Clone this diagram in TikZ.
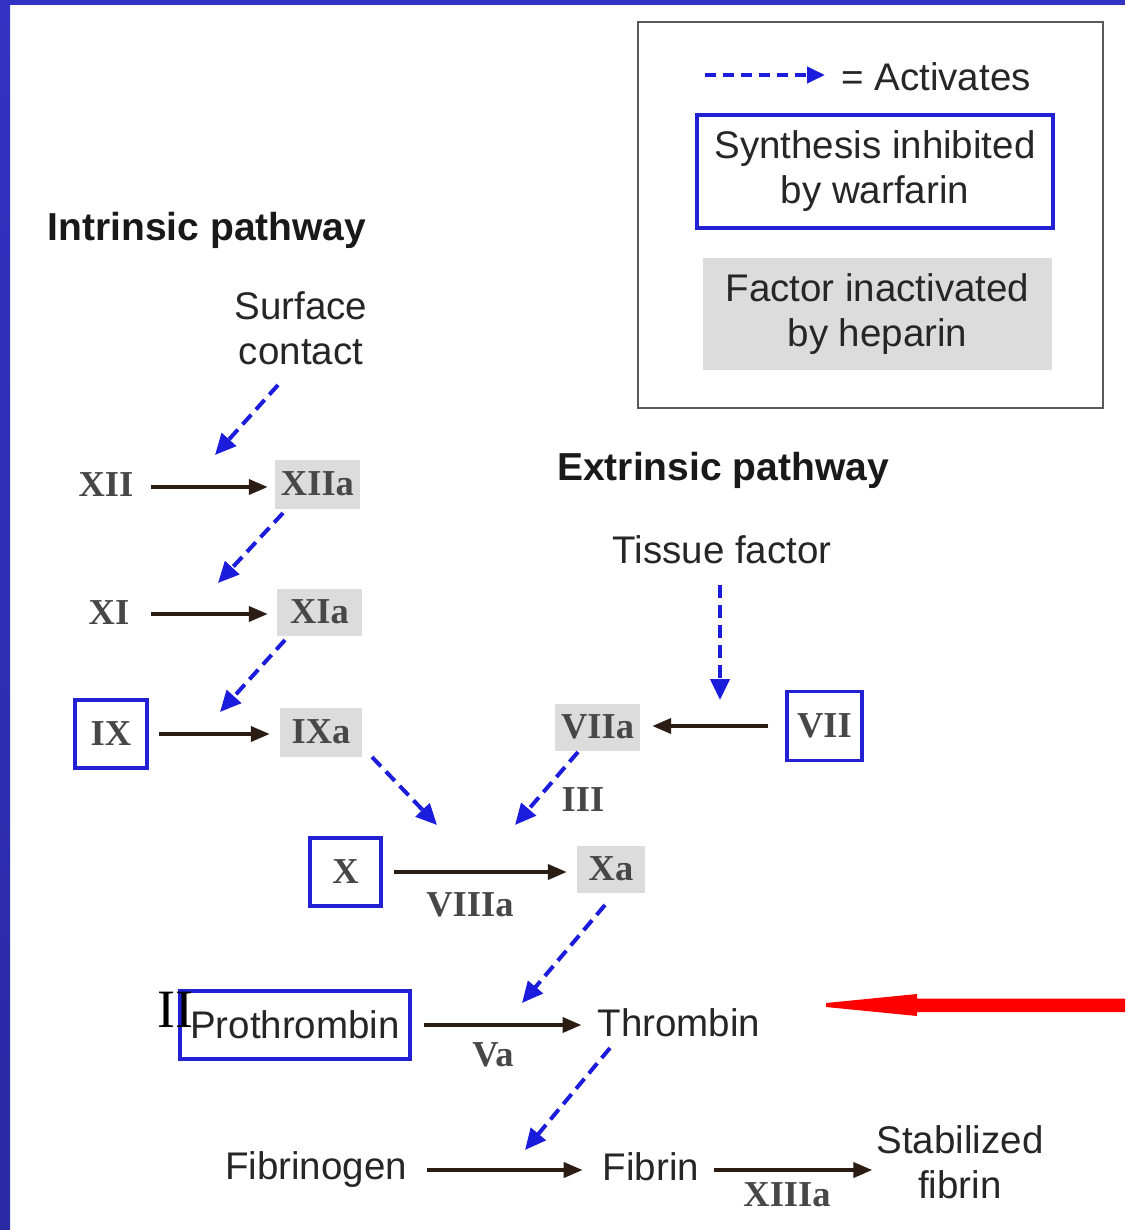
\documentclass[tikz,border=0pt]{standalone}
\usepackage{fontspec}
\setmainfont{Liberation Serif}
\newfontfamily\sanf{Liberation Sans}
\newfontfamily\serf{Liberation Serif}
\usetikzlibrary{arrows.meta}
\definecolor{band}{HTML}{3232C4}
\definecolor{bandlow}{HTML}{2A2AA4}
\definecolor{wblue}{HTML}{2222D4}
\definecolor{actblue}{HTML}{1C1CDC}
\definecolor{hgray}{HTML}{DCDCDC}
\definecolor{convcol}{HTML}{2B1D14}
\definecolor{framegray}{HTML}{5A5A5A}
\newcommand\sanstxt{\sanf\fontsize{38.5}{45}\selectfont}
\newcommand\sansbold{\sanf\bfseries\fontsize{39}{45}\selectfont}
\newcommand\romtxt{\serf\bfseries\fontsize{36.5}{42}\selectfont}
\newcommand\bigrom{\serf\fontsize{54}{60}\selectfont}
\begin{document}
\begin{tikzpicture}[x=1pt,y=-1pt,
  lbl/.style={inner sep=0pt, font=\sanstxt, text=black!85},
  hdr/.style={inner sep=0pt, font=\sansbold, text=black!90},
  rom/.style={inner sep=0pt, font=\romtxt, text=black!72},
  warf/.style={draw=wblue, line width=3.5pt, inner sep=0pt, font=\romtxt, text=black!72},
  hep/.style={fill=hgray, inner sep=0pt, font=\romtxt, text=black!72},
  act/.style={draw=actblue, line width=4pt, dash pattern=on 13pt off 7pt,
     -{Triangle[length=21pt,width=19pt]}},
  conv/.style={draw=convcol, line width=3.8pt, -{Triangle[length=19pt,width=15pt]}}
]
\useasboundingbox (0,0) rectangle (1125,1230);
\fill[white] (0,0) rectangle (1125,1230);
% slide frame bands
\fill[band] (0,0) rectangle (1125,5);
\shade[top color=band, bottom color=bandlow] (0,0) rectangle (10,1230);

% legend
\draw[framegray, line width=2.5pt] (638,22) rectangle (1103,408);
\coordinate (la) at (705,75);
\coordinate (lb) at (825,75);
\draw[act, dash pattern=on 11pt off 7pt, -{Triangle[length=18pt,width=16pt]}] (la) -- (lb);
\node[lbl] (activ) at (936,77) {= Activates};
\node[draw=wblue, line width=3.5pt, inner sep=0pt, minimum width=356pt, minimum height=113pt,
      font=\sanstxt, align=center, text=black!85] (lwarf) at (875,171.5) {Synthesis inhibited\\by warfarin};
\node[fill=hgray, inner sep=0pt, minimum width=349pt, minimum height=112pt,
      font=\sanstxt, align=center, text=black!85] (lhep) at (877.5,314) {Factor inactivated\\by heparin};

% intrinsic pathway
\node[hdr] (intr) at (207,230) {Intrinsic pathway};
\node[lbl, align=center] (surf) at (301,328) {Surface\\contact};

\node[rom] (xii) at (106,485) {XII};
\node[hep, minimum width=85pt, minimum height=49pt] (xiia) at (317.5,484) {XIIa};
\node[rom] (xi) at (109,613) {XI};
\node[hep, minimum width=85pt, minimum height=47pt] (xia) at (319.5,612) {XIa};
\node[warf, minimum width=72pt, minimum height=68pt] (ix) at (111,734) {IX};
\node[hep, minimum width=82pt, minimum height=49pt] (ixa) at (321,732) {IXa};

% extrinsic pathway
\node[hdr] (extr) at (723,470) {Extrinsic pathway};
\node[lbl] (tissue) at (722,550) {Tissue factor};
\node[warf, minimum width=75pt, minimum height=69pt] (vii) at (824.5,726) {VII};
\node[hep, minimum width=85pt, minimum height=47pt] (viia) at (597.5,727) {VIIa};
\node[rom] (iii) at (583,800) {III};

% common pathway
\node[warf, minimum width=71pt, minimum height=68pt] (x) at (345.5,872) {X};
\node[hep, minimum width=68pt, minimum height=47pt] (xa) at (611,869) {Xa};
\node[rom] (viiia) at (470,905) {VIIIa};

\node[warf, minimum width=230pt, minimum height=68pt, font=\sanstxt, text=black!85] (pro) at (295,1025) {Prothrombin};
\node[inner sep=0pt, font=\bigrom, text=black] (iibig) at (175,1010) {II};
\node[lbl] (thr) at (679,1023) {Thrombin};
\node[rom] (va) at (493,1055) {Va};

\node[lbl] (fibg) at (316,1170) {Fibrinogen};
\node[lbl] (fib) at (651,1167) {Fibrin};
\node[lbl, align=center] (stab) at (960,1162) {Stabilized\\fibrin};
\node[rom] (xiiia) at (787,1195) {XIIIa};

% conversion arrows
\draw[conv, shorten <=17pt, shorten >=7pt] ([yshift=-2pt]xii.east) -- ([yshift=-2pt]xii.east -| xiia.west);
\draw[conv, shorten <=22pt, shorten >=9pt] ([yshift=-1pt]xi.east) -- ([yshift=-1pt]xi.east -| xia.west);
\draw[conv, shorten <=10pt, shorten >=10pt] (ix.east) -- (ix.east -| ixa.west);
\draw[conv, shorten <=17pt, shorten >=12pt] (vii.west) -- (vii.west -| viia.east);
\draw[conv, shorten <=11pt, shorten >=10pt] (x.east) -- (x.east -| xa.west);
\draw[conv, shorten <=12pt, shorten >=16pt] (pro.east) -- (pro.east -| thr.west);
\draw[conv, shorten <=20pt, shorten >=20pt] (fibg.east) -- (fibg.east -| fib.west);
\draw[conv, shorten <=15pt, shorten >=4pt] ([yshift=-3pt]fib.east) -- ([yshift=-3pt]fib.east -| stab.west);

% activation arrows
\coordinate (a1s) at (278,385);  \coordinate (a1e) at (215,455);
\coordinate (a2s) at (283,513);  \coordinate (a2e) at (218,583);
\coordinate (a3s) at (285,640);  \coordinate (a3e) at (220,712);
\coordinate (a4s) at (372,757);  \coordinate (a4e) at (437,825);
\coordinate (a5s) at (720,585);  \coordinate (a5e) at (720,700);
\coordinate (a6s) at (578,752);  \coordinate (a6e) at (515,825);
\coordinate (a7s) at (605,905);  \coordinate (a7e) at (522,1003);
\coordinate (a8s) at (610,1048); \coordinate (a8e) at (525,1150);
\draw[act] (a1s) -- (a1e);
\draw[act] (a2s) -- (a2e);
\draw[act] (a3s) -- (a3e);
\draw[act] (a4s) -- (a4e);
\draw[act] (a5s) -- (a5e);
\draw[act] (a6s) -- (a6e);
\draw[act] (a7s) -- (a7e);
\draw[act] (a8s) -- (a8e);

% red pointer arrow
\fill[red] (1125,998.5) -- (917,998.5) -- (917,994) -- (826,1003) -- (826,1007) -- (917,1016) -- (917,1012) -- (1125,1012) -- cycle;
\end{tikzpicture}
\end{document}
